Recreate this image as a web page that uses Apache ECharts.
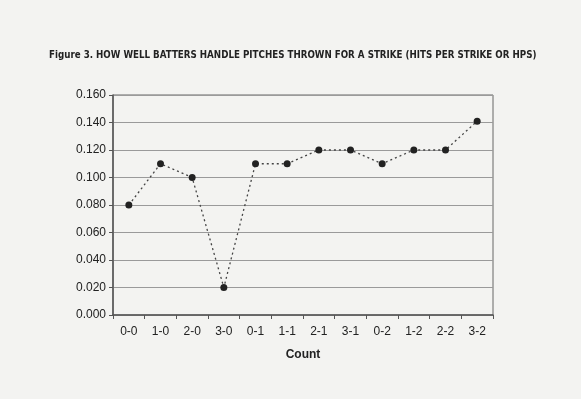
<!DOCTYPE html>
<html>
<head>
<meta charset="utf-8">
<script src="https://cdn.jsdelivr.net/npm/echarts@6/dist/echarts.min.js"></script>
<style>
  html, body { margin: 0; padding: 0; background: #f3f3f1; }
  #chart { width: 581px; height: 399px; }
</style>
</head>
<body>
<div id="chart"></div>
<script>
// counts (balls-strikes)
var counts = ['0-0', '1-0', '2-0', '3-0', '0-1', '1-1', '2-1', '3-1', '0-2', '1-2', '2-2', '3-2'];
// hits per strike
var hps = [0.080, 0.110, 0.100, 0.020, 0.110, 0.110, 0.120, 0.120, 0.110, 0.120, 0.120, 0.141];

var yMin = 0, yMax = 0.16, yStep = 0.02;

var myChart = echarts.init(document.getElementById('chart'));
var option = {
    backgroundColor: '#f3f3f1',
    animation: false,
    title: {
        text: 'Figure 3. HOW WELL BATTERS HANDLE PITCHES THROWN FOR A STRIKE (HITS PER STRIKE OR HPS)',
        left: 44,
        top: 45,
        textStyle: {
            fontFamily: 'DejaVu Sans Condensed',
            fontWeight: 'bold',
            fontSize: 9.7,
            color: '#222'
        }
    },
    grid: {
        left: 113,
        top: 95,
        right: 88,
        bottom: 84,
        show: true,
        borderColor: '#666',
        borderWidth: 1
    },
    xAxis: {
        type: 'category',
        data: counts,
        boundaryGap: true,
        name: 'Count',
        nameLocation: 'middle',
        nameGap: 34,
        nameTextStyle: { fontFamily: 'Liberation Sans', fontWeight: 'bold', fontSize: 12, color: '#222' },
        axisLine: { lineStyle: { color: '#555', width: 1.5 } },
        axisTick: { show: true, length: 4, lineStyle: { color: '#555' } },
        axisLabel: { fontFamily: 'Liberation Sans', fontSize: 12, color: '#222', margin: 11 },
        splitLine: { show: false }
    },
    yAxis: {
        type: 'value',
        min: yMin,
        max: yMax,
        interval: yStep,
        axisLine: { show: true, lineStyle: { color: '#555', width: 1.5 } },
        axisTick: { show: true, length: 4, lineStyle: { color: '#555' } },
        axisLabel: {
            fontFamily: 'Liberation Sans', fontSize: 12, color: '#222', margin: 7,
            formatter: function (v) { return v.toFixed(3); }
        },
        splitLine: { show: true, lineStyle: { color: '#9a9a9a', width: 1.2 } }
    },
    series: [{
        type: 'line',
        data: hps,
        symbol: 'circle',
        symbolSize: 7,
        itemStyle: { color: '#222' },
        lineStyle: { color: '#444', width: 1.3, type: [2, 3] }
    }]
};
myChart.setOption(option);
</script>
</body>
</html>
